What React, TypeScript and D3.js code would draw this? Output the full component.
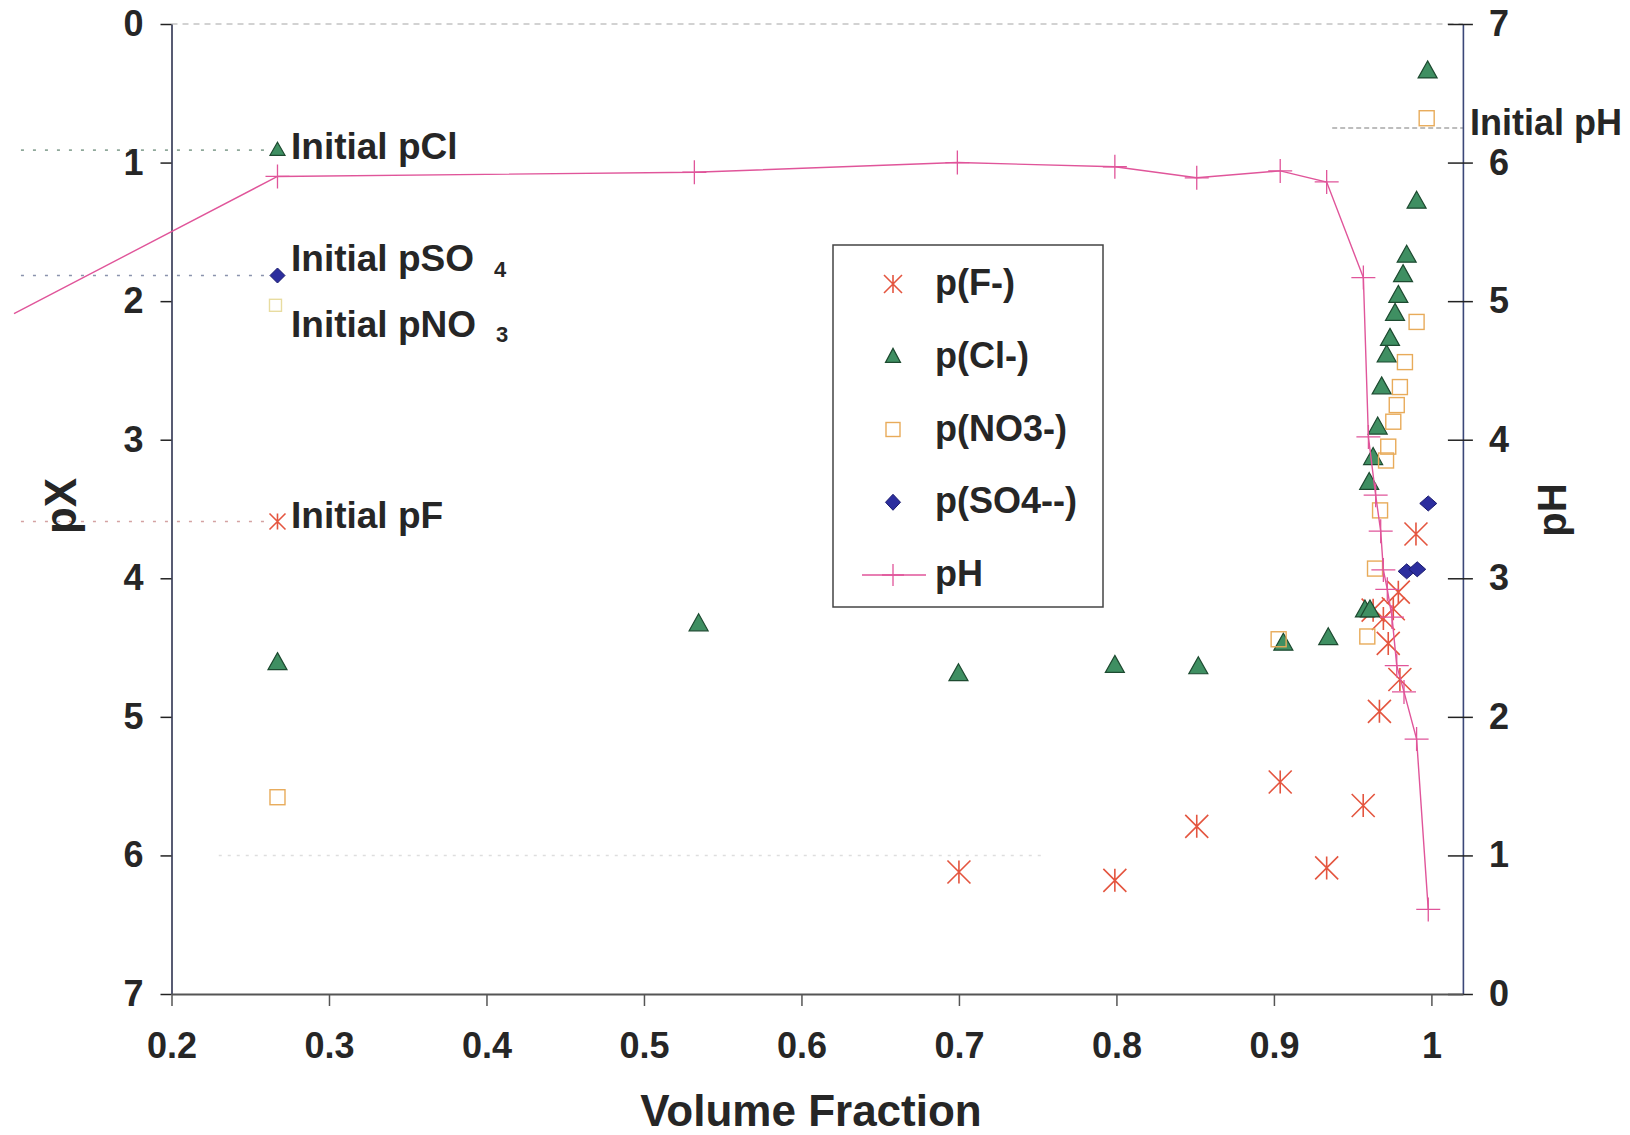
import React, { useEffect, useRef } from "react";
import * as d3 from "d3";

type Pt = [number, number];

// tick values
const xTicks = [0.2, 0.3, 0.4, 0.5, 0.6, 0.7, 0.8, 0.9, 1.0];
const pXTicks = [0, 1, 2, 3, 4, 5, 6, 7];
const pHTicks = [0, 1, 2, 3, 4, 5, 6, 7];

// [volume fraction, pX]
const fluoride: Pt[] = [
  [0.7, 6.12], [0.799, 6.18], [0.851, 5.79], [0.904, 5.47], [0.9335, 6.09],
  [0.9567, 5.64], [0.963, 4.23], [0.967, 4.96], [0.9695, 4.29], [0.9726, 4.47],
  [0.9758, 4.22], [0.979, 4.1], [0.98, 4.73], [0.9902, 3.68],
];
const chloride: Pt[] = [
  [0.2673, 4.61], [0.5347, 4.33], [0.6997, 4.69], [0.799, 4.63], [0.852, 4.64],
  [0.906, 4.47], [0.9345, 4.43], [0.9578, 4.23], [0.961, 4.23], [0.9605, 3.31],
  [0.963, 3.13], [0.9659, 2.91], [0.9684, 2.62], [0.9716, 2.39], [0.9737, 2.27],
  [0.9769, 2.09], [0.979, 1.96], [0.982, 1.81], [0.9843, 1.67], [0.9906, 1.28],
  [0.9976, 0.34],
];
const nitrate: Pt[] = [
  [0.2673, 5.58], [0.903, 4.44], [0.9593, 4.42], [0.9642, 3.93], [0.9674, 3.51],
  [0.9712, 3.15], [0.9726, 3.05], [0.9758, 2.87], [0.978, 2.75], [0.98, 2.62],
  [0.9832, 2.44], [0.9906, 2.15], [0.997, 0.68],
];
const sulfate: Pt[] = [[0.9843, 3.95], [0.991, 3.935], [0.998, 3.46]];
// [volume fraction, pH]
const phData: Pt[] = [
  [0.1, 4.91], [0.2673, 5.9], [0.532, 5.93], [0.699, 6.0], [0.799, 5.97],
  [0.851, 5.89], [0.904, 5.94], [0.9335, 5.86], [0.9568, 5.17], [0.96, 4.02],
  [0.9646, 3.6], [0.9678, 3.34], [0.9695, 3.06], [0.972, 2.92], [0.975, 2.72],
  [0.978, 2.37], [0.9826, 2.18], [0.9906, 1.84], [0.998, 0.61],
];

// initial values
const initialX = 0.2673;
const initialPCl = 0.91;
const initialPSO4 = 1.815;
const initialPNO3 = 2.03;
const initialPF = 3.59;
const initialPH = 6.25;

const legendLabels = ["p(F-)", "p(Cl-)", "p(NO3-)", "p(SO4--)", "pH"];

const FONT = "'Liberation Sans', Arial, Helvetica, sans-serif";
const F_COLOR = "#e4553f";
const CL_FILL = "#3f8f62";
const CL_STROKE = "#1d4a30";
const NO3_COLOR = "#e8ab5a";
const SO4_FILL = "#2c2e9e";
const PH_COLOR = "#e0559a";
const TXT = "#262626";

const asterisk = (r: number) =>
  `M${-r},${-r}L${r},${r}M${-r},${r}L${r},${-r}M0,${-r}L0,${r}`;
const triangle = (w: number, h: number) =>
  `M0,${(-h * 0.6).toFixed(1)}L${w / 2},${(h * 0.4).toFixed(1)}L${-w / 2},${(h * 0.4).toFixed(1)}Z`;
const diamond = (w: number, h: number) =>
  `M0,${-h / 2}L${w / 2},0L0,${h / 2}L${-w / 2},0Z`;

const Star = ({ cx, cy, r = 11.5 }: any) => (
  <path transform={`translate(${cx},${cy})`} d={asterisk(r)} stroke={F_COLOR} strokeWidth={1.6} fill="none" />
);
const Tri = ({ cx, cy, w = 19, h = 17 }: any) => (
  <path transform={`translate(${cx},${cy})`} d={triangle(w, h)} fill={CL_FILL} stroke={CL_STROKE} strokeWidth={1.2} />
);
const Sq = ({ cx, cy, s = 15, color = NO3_COLOR }: any) => (
  <rect x={cx - s / 2} y={cy - s / 2} width={s} height={s} fill="none" stroke={color} strokeWidth={1.4} />
);
const Dia = ({ cx, cy, w = 17, h = 15 }: any) => (
  <path transform={`translate(${cx},${cy})`} d={diamond(w, h)} fill={SO4_FILL} stroke="#1a1b6e" strokeWidth={1} />
);
const Plus = ({ cx, cy, r = 12 }: any) => (
  <path transform={`translate(${cx},${cy})`} d={`M${-r},0L${r},0M0,${-r}L0,${r}`} stroke={PH_COLOR} strokeWidth={1.3} fill="none" />
);

function styleAxis(g: any, color: string) {
  g.attr("font-family", null).attr("font-size", null);
  g.select(".domain").attr("stroke", color).attr("stroke-width", 1.6);
  g.selectAll(".tick line").attr("stroke", "#222").attr("stroke-width", 1.5);
  g.selectAll(".tick text")
    .attr("font-family", FONT)
    .attr("font-weight", "bold")
    .attr("font-size", 36)
    .attr("fill", TXT);
}

export default function App() {
  const x = d3.scaleLinear().domain([0.2, 1.02]).range([171.5, 1462.9]);
  const yX = d3.scaleLinear().domain([0, 7]).range([24, 994]);
  const yH = d3.scaleLinear().domain([0, 7]).range([994, 24]);

  const leftRef = useRef<SVGGElement>(null);
  const rightRef = useRef<SVGGElement>(null);
  const bottomRef = useRef<SVGGElement>(null);

  useEffect(() => {
    const gl = d3.select(leftRef.current);
    gl.call(
      d3.axisLeft(yX).tickValues(pXTicks).tickSize(11).tickSizeOuter(0)
        .tickPadding(17).tickFormat(d3.format("d")) as any
    );
    styleAxis(gl, "#2e3350");

    const gr = d3.select(rightRef.current);
    gr.call(
      d3.axisRight(yH).tickValues(pHTicks).tickSize(10).tickSizeOuter(0)
        .tickPadding(16).tickFormat(d3.format("d")) as any
    );
    styleAxis(gr, "#3b4778");
    gr.selectAll(".tick line").attr("x1", -15).attr("x2", 10);

    const gb = d3.select(bottomRef.current);
    gb.call(
      d3.axisBottom(x).tickValues(xTicks).tickSize(12).tickSizeOuter(0)
        .tickPadding(26).tickFormat((d: any) => (d === 1 ? "1" : d3.format(".1f")(d))) as any
    );
    styleAxis(gb, "#555");
    gb.select(".domain").attr("stroke-width", 2);
    gb.selectAll(".tick line").attr("stroke", "#555");
  }, []);

  const phLine = d3.line<Pt>().x((d) => x(d[0])).y((d) => yH(d[1]));

  const ix = x(initialX);
  const legendRows = legendLabels.map((_, i) => 284 + i * 72.75);
  const textStyle = { fontFamily: FONT, fontWeight: "bold" as const, fill: TXT };

  return (
    <svg
      width={1630}
      height={1135}
      style={{ position: "absolute", left: 0, top: 0, background: "#fff" }}
    >
      <rect width={1630} height={1135} fill="#fff" />

      {/* faint dotted lines in plot area */}
      <line x1={x(0.2)} x2={x(1.02)} y1={yX(0)} y2={yX(0)} stroke="#c4c4c4" strokeWidth={1.5} strokeDasharray="6 5" />
      <line x1={x(0.23)} x2={x(0.755)} y1={yX(6)} y2={yX(6)} stroke="#dedede" strokeWidth={1.5} strokeDasharray="3 6" />

      {/* initial value guide lines */}
      <line x1={x(0.1044)} x2={x(0.261)} y1={yX(initialPCl)} y2={yX(initialPCl)} stroke="#8fa89a" strokeWidth={1.6} strokeDasharray="3 9" />
      <line x1={x(0.1044)} x2={x(0.261)} y1={yX(initialPSO4)} y2={yX(initialPSO4)} stroke="#8a93ad" strokeWidth={1.6} strokeDasharray="3 9" />
      <line x1={x(0.1044)} x2={x(0.261)} y1={yX(initialPF)} y2={yX(initialPF)} stroke="#d4a2a2" strokeWidth={1.6} strokeDasharray="3 9" />
      <line x1={x(0.937)} x2={x(1.02)} y1={yH(initialPH)} y2={yH(initialPH)} stroke="#a8a8a8" strokeWidth={1.6} strokeDasharray="5 3" />

      <g ref={leftRef} transform={`translate(${x(0.2)},0)`} />
      <g ref={rightRef} transform={`translate(${x(1.02)},0)`} />
      <g ref={bottomRef} transform={`translate(0,${yX(7)})`} />

      {/* series */}
      {fluoride.map((d, i) => <Star key={"f" + i} cx={x(d[0])} cy={yX(d[1])} />)}
      {chloride.map((d, i) => <Tri key={"c" + i} cx={x(d[0])} cy={yX(d[1])} />)}
      {nitrate.map((d, i) => <Sq key={"n" + i} cx={x(d[0])} cy={yX(d[1])} />)}
      {sulfate.map((d, i) => <Dia key={"s" + i} cx={x(d[0])} cy={yX(d[1])} />)}
      <path d={phLine(phData) || ""} fill="none" stroke={PH_COLOR} strokeWidth={1.4} />
      {phData.slice(1).map((d, i) => <Plus key={"p" + i} cx={x(d[0])} cy={yH(d[1])} />)}

      {/* initial markers */}
      <Tri cx={ix} cy={yX(initialPCl)} w={15} h={13} />
      <Dia cx={ix} cy={yX(initialPSO4)} w={15} h={15} />
      <Sq cx={ix - 2} cy={yX(initialPNO3)} s={12} color="#e8dca0" />
      <Star cx={ix} cy={yX(initialPF)} r={8} />

      {/* annotations */}
      <text x={291} y={yX(initialPCl) + 9} fontSize={37} style={textStyle}>Initial pCl</text>
      <text x={291} y={yX(initialPSO4) - 5} fontSize={37} style={textStyle}>Initial pSO</text>
      <text x={494} y={yX(initialPSO4) + 1} fontSize={22} style={textStyle}>4</text>
      <text x={291} y={yX(initialPNO3) + 32} fontSize={37} style={textStyle}>Initial pNO</text>
      <text x={496} y={yX(initialPNO3) + 37} fontSize={22} style={textStyle}>3</text>
      <text x={291} y={yX(initialPF) + 7} fontSize={37} style={textStyle}>Initial pF</text>
      <text x={1470} y={yH(initialPH) + 7} fontSize={36} style={textStyle}>Initial pH</text>

      {/* axis titles */}
      <text transform={`translate(76,506) rotate(-90)`} textAnchor="middle" fontSize={44} style={textStyle}>pX</text>
      <text transform={`translate(1566,510) rotate(-90)`} textAnchor="middle" fontSize={40} style={textStyle}>pH</text>
      <text x={811} y={1126} textAnchor="middle" fontSize={44} style={textStyle}>Volume Fraction</text>

      {/* legend */}
      <rect x={833} y={245} width={270} height={362} fill="#fff" stroke="#444" strokeWidth={1.5} />
      <Star cx={893} cy={legendRows[0]} r={9} />
      <Tri cx={893} cy={legendRows[1]} w={15} h={14} />
      <Sq cx={893} cy={legendRows[2]} s={14} />
      <Dia cx={893} cy={legendRows[3]} w={15} h={16} />
      <line x1={862} x2={926} y1={legendRows[4]} y2={legendRows[4]} stroke={PH_COLOR} strokeWidth={1.4} />
      <Plus cx={893} cy={legendRows[4]} r={11} />
      {legendLabels.map((t, i) => (
        <text key={t} x={935} y={legendRows[i] + 11} fontSize={36} style={textStyle}>{t}</text>
      ))}
    </svg>
  );
}
